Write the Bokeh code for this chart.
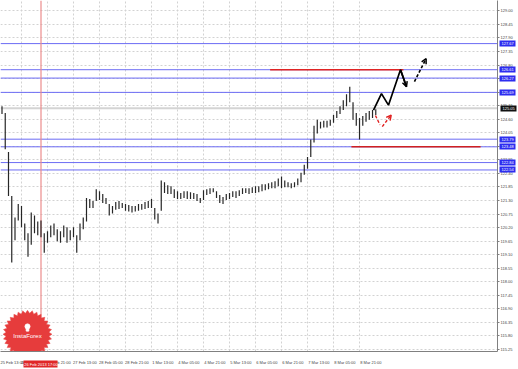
import numpy as np
from bokeh.plotting import figure
from bokeh.models import Range1d, FixedTicker, PrintfTickFormatter, LinearAxis, Arrow, OpenHead
from bokeh.core.properties import value
from bokeh.embed import file_html
from bokeh.resources import INLINE

# ---------------- data ----------------
# bar positions in trading hours counted from 25 Feb 13:00 (2-hour bars)
bar_hours = list(range(4, 236, 2))
highs = [125.13, 124.85, 123.27, 121.48, 120.61, 121.16, 121.08, 120.37, 119.97, 120.81,
         120.69, 120.45, 120.49, 119.97, 120.05, 120.29, 120.37, 120.13, 120.05, 120.29,
         120.21, 120.09, 120.21, 119.89, 120.37, 120.61, 121.40, 121.36, 121.28, 121.76,
         121.68, 121.56, 121.40, 121.16, 121.08, 121.24, 121.28, 121.20, 121.16, 121.12,
         121.08, 121.08, 121.16, 121.16, 121.24, 121.28, 121.36, 121.00, 120.77, 122.11,
         122.04, 121.92, 121.88, 121.76, 121.68, 121.60, 121.68, 121.68, 121.64, 121.60,
         121.56, 121.40, 121.72, 121.76, 121.80, 121.80, 121.68, 121.52, 121.44, 121.56,
         121.60, 121.68, 121.68, 121.72, 121.80, 121.80, 121.80, 121.84, 121.88, 121.88,
         121.96, 121.96, 122.00, 122.04, 122.08, 122.19, 122.27, 122.11, 122.04, 122.00,
         122.04, 122.19, 122.43, 122.75, 123.07, 123.78, 124.34, 124.58, 124.50, 124.54,
         124.54, 124.58, 124.77, 124.93, 125.13, 125.37, 125.61, 125.92, 125.29, 124.85,
         124.65, 124.73, 124.85, 124.93, 124.97, 125.01]
lows = [124.81, 123.38, 121.48, 118.78, 119.69, 120.49, 120.21, 119.69, 119.02, 119.50,
        119.97, 119.89, 119.81, 119.18, 119.58, 119.81, 119.89, 119.65, 119.58, 119.81,
        119.58, 119.69, 119.81, 119.18, 119.69, 120.13, 120.45, 121.00, 121.00, 121.28,
        121.32, 121.20, 121.16, 120.69, 120.77, 120.92, 120.96, 121.00, 120.88, 120.85,
        120.81, 120.85, 120.88, 120.92, 120.96, 121.00, 121.00, 120.53, 120.37, 120.88,
        121.60, 121.56, 121.56, 121.40, 121.36, 121.36, 121.40, 121.36, 121.36, 121.36,
        121.28, 121.20, 121.32, 121.52, 121.56, 121.64, 121.40, 121.20, 121.16, 121.32,
        121.36, 121.44, 121.40, 121.48, 121.56, 121.60, 121.56, 121.60, 121.60, 121.64,
        121.68, 121.72, 121.76, 121.80, 121.80, 121.88, 121.80, 121.84, 121.84, 121.80,
        121.84, 121.92, 122.04, 122.35, 122.59, 123.07, 123.66, 124.02, 124.22, 124.26,
        124.26, 124.34, 124.46, 124.65, 124.81, 124.97, 125.13, 125.29, 124.58, 124.34,
        123.78, 124.34, 124.50, 124.58, 124.65, 124.77]

time_tick_hours = [0, 16, 32, 48, 64, 80, 96, 112, 128, 144, 160, 176, 192, 208, 224]
time_tick_labels = ["25 Feb 13:00", "26 Feb 05:00", "26 Feb 21:00", "27 Feb 13:00",
                    "28 Feb 05:00", "28 Feb 21:00", "1 Mar 13:00", "4 Mar 05:00",
                    "4 Mar 21:00", "5 Mar 13:00", "6 Mar 05:00", "6 Mar 21:00",
                    "7 Mar 13:00", "8 Mar 05:00", "8 Mar 21:00"]
price_ticks = [115.25, 115.80, 116.35, 116.90, 117.45, 118.00, 118.55, 119.10, 119.65,
               120.20, 120.75, 121.30, 121.85, 122.40, 122.95, 123.50, 124.05, 124.60,
               125.15, 125.70, 126.25, 126.80, 127.35, 127.90, 128.45, 129.00]

level_prices = [127.67, 126.61, 126.27, 125.69, 123.79, 123.48, 122.84, 122.54]
current_price = 125.05
resistance_price = 126.61
resistance_hours = [169.0, 251.0]
support_price = 123.48
support_hours = [219.0, 298.5]
marker_hour = 28
marker_label = "26 Feb 2013 17:00"

forecast_hours = [232.6, 237.5, 241.8, 249.2, 252.9]
forecast_prices = [124.97, 125.64, 125.17, 126.61, 125.92]
forecast_dash_hours = [257.8, 265.0]
forecast_dash_prices = [126.13, 127.06]
alt_down_hours = [233.8, 236.6]
alt_down_prices = [124.75, 124.37]
alt_up_hours = [238.0, 243.5]
alt_up_prices = [124.30, 124.77]

# ---------------- figure ----------------
X0, X1 = 3.08, 308.9
Y0, Y1 = 115.17, 129.42
W, H = 518, 369
FONT = "Liberation Sans"

p = figure(width=W, height=H, output_backend="svg", toolbar_location=None,
           x_range=Range1d(X0, X1), y_range=Range1d(Y0, Y1),
           y_axis_location="right", min_border_left=0, min_border_top=0,
           min_border_right=21, min_border_bottom=10)
p.outline_line_color = None
p.background_fill_color = "white"
p.border_fill_color = "white"

LABEL_SHIFT = 7
xticks = [t + LABEL_SHIFT for t in time_tick_hours]
p.xaxis.ticker = FixedTicker(ticks=xticks)
p.xaxis.major_label_overrides = {t: l for t, l in zip(xticks, time_tick_labels)}
p.xaxis.major_tick_line_color = None
p.xaxis.minor_tick_line_color = None
p.xaxis.axis_line_color = "#808080"
p.xaxis.major_label_text_font_size = "4px"
p.xaxis.major_label_text_font = FONT
p.xaxis.major_label_text_color = "#444444"
p.xaxis.major_label_standoff = 2

p.yaxis.ticker = FixedTicker(ticks=price_ticks)
p.yaxis.formatter = PrintfTickFormatter(format="%.2f")
p.yaxis.minor_tick_line_color = None
p.yaxis.major_tick_out = 2
p.yaxis.major_tick_in = 0
p.yaxis.major_tick_line_color = "#808080"
p.yaxis.axis_line_color = "#808080"
p.yaxis.major_label_text_font_size = "4px"
p.yaxis.major_label_text_font = FONT
p.yaxis.major_label_text_color = "#444444"
p.yaxis.major_label_standoff = 1

p.xgrid.ticker = FixedTicker(ticks=time_tick_hours)
for g in (p.xgrid, p.ygrid):
    g.grid_line_color = "#d2d2d2"
    g.grid_line_dash = "2 2"
    g.grid_line_width = 1

# highlighted price labels of the drawn levels (thick inward ticks act as label boxes)
def tag_axis(ticks, color, reach):
    return LinearAxis(ticker=FixedTicker(ticks=ticks),
                      formatter=PrintfTickFormatter(format="%.2f"),
                      axis_line_color=None, minor_tick_line_color=None,
                      major_tick_in=reach, major_tick_out=0,
                      major_tick_line_width=6, major_tick_line_color=color,
                      major_label_standoff=-(reach - 2),
                      major_label_text_color="white", major_label_text_font_size="4px",
                      major_label_text_font=FONT)

p.add_layout(tag_axis(level_prices, "#2d2df0", 16), "right")
p.add_layout(tag_axis([current_price], "#111111", 16), "right")

mark_axis = LinearAxis(ticker=FixedTicker(ticks=[marker_hour]),
                       major_label_overrides={marker_hour: marker_label},
                       axis_line_color=None, minor_tick_line_color=None,
                       major_tick_in=7, major_tick_out=0, major_tick_line_width=34,
                       major_tick_line_color="#e02828", major_label_standoff=-6,
                       major_label_text_color="white", major_label_text_font_size="4px",
                       major_label_text_font=FONT)
p.add_layout(mark_axis, "below")

# horizontal levels and markers
n_lv = len(level_prices)
p.segment(x0=[X0] * n_lv, y0=level_prices, x1=[X1] * n_lv, y1=level_prices,
          line_color="#6c6cf4", line_width=1)
p.segment(x0=[X0], y0=[current_price], x1=[X1], y1=[current_price],
          line_color="#d4d4d4", line_width=2)
p.segment(x0=[marker_hour], y0=[Y0], x1=[marker_hour], y1=[Y1],
          line_color="#ec8c8c", line_width=1.2)
p.segment(x0=[resistance_hours[0]], y0=[resistance_price], x1=[resistance_hours[1]],
          y1=[resistance_price], line_color="#e02424", line_width=1.6)
p.segment(x0=[support_hours[0]], y0=[support_price], x1=[support_hours[1]],
          y1=[support_price], line_color="#d02020", line_width=1.6)

# price bars
p.segment(x0=bar_hours, y0=lows, x1=bar_hours, y1=highs, line_color="#262626", line_width=1.2)

# forecast drawings
p.line(forecast_hours, forecast_prices, line_color="black", line_width=1.7)
p.add_layout(Arrow(end=OpenHead(size=5, line_color="black", line_width=1.5),
                   x_start=forecast_hours[-2], y_start=forecast_prices[-2],
                   x_end=forecast_hours[-1], y_end=forecast_prices[-1],
                   line_color="black", line_width=1.7))
p.add_layout(Arrow(end=OpenHead(size=5, line_color="black", line_width=1.5),
                   x_start=forecast_dash_hours[0], y_start=forecast_dash_prices[0],
                   x_end=forecast_dash_hours[1], y_end=forecast_dash_prices[1],
                   line_color="black", line_width=1.6, line_dash="3 2"))
p.line(alt_down_hours, alt_down_prices, line_color="#e02020", line_width=1.4, line_dash="3 2")
p.add_layout(Arrow(end=OpenHead(size=5, line_color="#e02020", line_width=1.4),
                   x_start=alt_up_hours[0], y_start=alt_up_prices[0],
                   x_end=alt_up_hours[1], y_end=alt_up_prices[1],
                   line_color="#e02020", line_width=1.4, line_dash="3 2"))

# logo (starburst badge)
fw, fh = W - 21, H - 10
px_per_hour = fw / (X1 - X0)
px_per_price = fh / (Y1 - Y0)
logo_x, logo_y = 19.7, 115.87
n_teeth = 32
ang = np.linspace(0, 2 * np.pi, 2 * n_teeth, endpoint=False)
rad = np.where(np.arange(2 * n_teeth) % 2 == 0, 24.5, 21.5)
p.patch(logo_x + rad * np.cos(ang) / px_per_hour, logo_y + rad * np.sin(ang) / px_per_price,
        fill_color="#e63c3c", line_color="#e85050", line_width=0.5)
p.scatter([logo_x], [logo_y + 8 / px_per_price], marker="circle", size=5,
          fill_color="white", line_color="white")
p.scatter([logo_x], [logo_y + 4.5 / px_per_price], marker="square", size=2.5,
          fill_color="white", line_color="white")
p.text([logo_x], [logo_y - 2 / px_per_price], text=["InstaForex"], text_color="white",
       text_font=value(FONT), text_font_size="6px", text_align="center",
       text_baseline="middle")

open("out.html", "w").write(file_html(p, INLINE))
